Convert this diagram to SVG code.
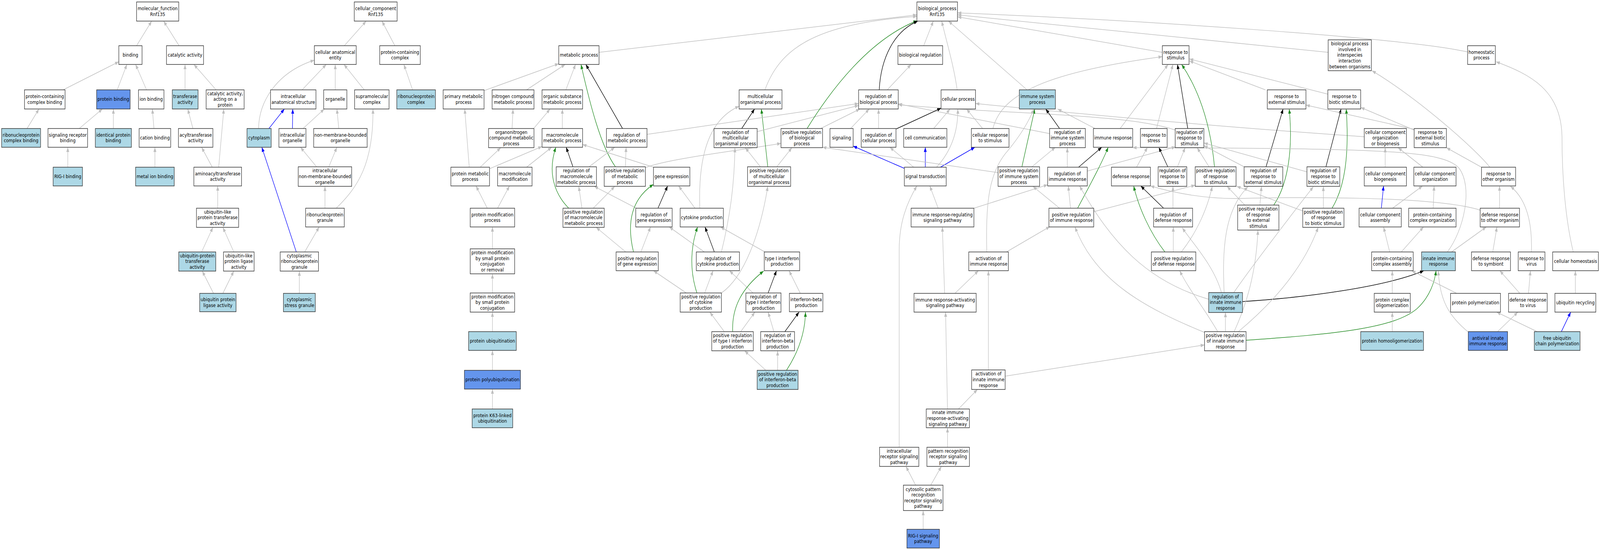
<svg xmlns="http://www.w3.org/2000/svg" width="4968" height="1408" viewBox="0 0 4968 1408">
<style>
.w,.lb,.cb{stroke:#333;stroke-width:1.5}
.w{fill:#fff}.lb{fill:#add8e6}.cb{fill:#6495ed}
text{font-family:"DejaVu Sans",sans-serif;font-size:13px;text-anchor:middle;fill:#000}
#edges path{fill:none;stroke-width:1.5}
.e{stroke:#c0c0c0;marker-end:url(#ag)}
.k{stroke:#000;marker-end:url(#ak)}
.gr{stroke:#228b22;marker-end:url(#agr)}
.b{stroke:#0000ff;marker-end:url(#ab)}
</style>
<defs>
<marker id="ag" viewBox="0 0 12 9" refX="12" refY="4.5" markerWidth="12" markerHeight="9" markerUnits="userSpaceOnUse" orient="auto"><path d="M0,0 L12,4.5 L0,9 z" fill="#c0c0c0"/></marker>
<marker id="ak" viewBox="0 0 12 9" refX="12" refY="4.5" markerWidth="12" markerHeight="9" markerUnits="userSpaceOnUse" orient="auto"><path d="M0,0 L12,4.5 L0,9 z" fill="#000"/></marker>
<marker id="agr" viewBox="0 0 12 9" refX="12" refY="4.5" markerWidth="12" markerHeight="9" markerUnits="userSpaceOnUse" orient="auto"><path d="M0,0 L12,4.5 L0,9 z" fill="#228b22"/></marker>
<marker id="ab" viewBox="0 0 12 9" refX="12" refY="4.5" markerWidth="12" markerHeight="9" markerUnits="userSpaceOnUse" orient="auto"><path d="M0,0 L12,4.5 L0,9 z" fill="#0000ff"/></marker>
</defs>
<g id="diagram" transform="scale(0.824477,1)">
<g id="edges">
<path class="e" d="M424,117 L471,54"/>
<path class="e" d="M556,117 L508,54"/>
<path class="e" d="M196,230 L369,158"/>
<path class="e" d="M364,230 L394,165"/>
<path class="e" d="M455,230 L421,165"/>
<path class="e" d="M574.5,230 L574.5,165"/>
<path class="e" d="M671,230 L602,165"/>
<path class="e" d="M84,329 L121,279"/>
<path class="e" d="M246,329 L318,279"/>
<path class="e" d="M352,329 L352,279"/>
<path class="e" d="M478,329 L473,279"/>
<path class="e" d="M599,329 L583,279"/>
<path class="e" d="M210.5,428 L210.5,377"/>
<path class="e" d="M481,428 L481,377"/>
<path class="e" d="M659,428 L626,377"/>
<path class="e" d="M679,428 L695,279"/>
<path class="e" d="M676,533 L676,476"/>
<path class="e" d="M626,645 L661,582"/>
<path class="e" d="M726,645 L692,582"/>
<path class="e" d="M663,751 L628,694"/>
<path class="e" d="M692,751 L726,694"/>
<path class="e" d="M1069,117 L1137,54"/>
<path class="e" d="M1226,117 L1186,54"/>
<path class="e" d="M938,230 L1013,165"/>
<path class="e" d="M1041,230 L1041,165"/>
<path class="e" d="M1131,230 L1068,165"/>
<path class="e" d="M803,329 C803,260 860,185 976,154"/>
<path class="e" d="M1281,230 L1254,165"/>
<path class="e" d="M941,329 L1007,279"/>
<path class="e" d="M1052,329 L1046,279"/>
<path class="e" d="M983,427 L933,377"/>
<path class="e" d="M1021,427 L1046,377"/>
<path class="e" d="M1009,533 L1009,477"/>
<path class="e" d="M1044,533 C1110,480 1160,420 1158,279"/>
<path class="e" d="M946,645 L991,581"/>
<path class="e" d="M929.5,751 L929.5,694"/>
<path class="b" d="M835,329 L883,279"/>
<path class="b" d="M908,329 L909,279"/>
<path class="b" d="M920,645 L813,377"/>
<path class="e" d="M1860,134 L2847,38"/>
<path class="e" d="M1503,232 L1735,163"/>
<path class="e" d="M1635,230 L1755,165"/>
<path class="e" d="M1757,230 L1787,165"/>
<path class="e" d="M1590,329 L1593,279"/>
<path class="e" d="M1657,329 L1708,279"/>
<path class="e" d="M1746,329 L1746,279"/>
<path class="e" d="M1457,428 L1443,279"/>
<path class="e" d="M1491,428 L1555,378"/>
<path class="e" d="M1520,432 L1683,375"/>
<path class="e" d="M1635,428 L1713,377"/>
<path class="e" d="M1513,533 L1478,476"/>
<path class="e" d="M1545,533 L1582,476"/>
<path class="e" d="M1529,637 L1529,581"/>
<path class="e" d="M1529,750 L1529,701"/>
<path class="e" d="M1529,849 L1529,799"/>
<path class="e" d="M1529,948 L1529,897"/>
<path class="e" d="M1529,1047 L1529,996"/>
<path class="k" d="M1933,329 L1819,165"/>
<path class="gr" d="M1911,427 C1865,375 1830,260 1804,165"/>
<path class="k" d="M1779,427 L1758,377"/>
<path class="e" d="M1829,427 L1909,377"/>
<path class="e" d="M1942,427 L1944,377"/>
<path class="e" d="M2004,429 C2080,405 2300,385 2425,367"/>
<path class="e" d="M2029,428 L1809,370"/>
<path class="gr" d="M1766,533 C1720,495 1700,440 1726,377"/>
<path class="e" d="M1807,533 L1797,477"/>
<path class="e" d="M1842,533 L1909,477"/>
<path class="k" d="M2043,533 L2073,476"/>
<path class="e" d="M1976,533 L1845,477"/>
<path class="e" d="M2158,533 L2107,476"/>
<path class="e" d="M2173,533 C2168,420 2190,310 2295,272"/>
<path class="gr" d="M1967,645 C1945,570 1960,510 2029,472"/>
<path class="e" d="M1990,645 L2020,581"/>
<path class="e" d="M1943,645 L1851,582"/>
<path class="k" d="M2218,645 L2189,581"/>
<path class="e" d="M2187,645 L2078,581"/>
<path class="e" d="M2240,645 C2265,560 2280,480 2282,378"/>
<path class="e" d="M2375,645 L2237,581"/>
<path class="gr" d="M2384,427 L2364,279"/>
<path class="e" d="M2361,427 L2314,378"/>
<path class="e" d="M2412,427 L2459,378"/>
<path class="k" d="M2303,329 L2343,279"/>
<path class="e" d="M2351,337 L2666,270"/>
<path class="e" d="M2009,344 L2666,265"/>
<path class="e" d="M2548,329 L2670,279"/>
<path class="gr" d="M2506,329 C2580,230 2700,100 2848,53"/>
<path class="k" d="M2730,230 C2735,150 2775,80 2850,54"/>
<path class="e" d="M2755,230 L2829,165"/>
<path class="e" d="M2868,117 L2898,54"/>
<path class="e" d="M2972,230 C2962,170 2940,110 2924,54"/>
<path class="e" d="M3189,230 L2945,54"/>
<path class="e" d="M2375,230 C2420,130 2520,60 2847,42"/>
<path class="e" d="M3609,134 L2973,43"/>
<path class="e" d="M4124,134 L2973,38"/>
<path class="e" d="M4557,133 C4350,95 3500,50 2973,33"/>
<path class="e" d="M4236,350 Q3700,320 3029,265"/>
<path class="e" d="M3649,333 C3500,290 3100,292 2789,268"/>
<path class="e" d="M3259,342 L2789,266"/>
<path class="e" d="M2728,329 L2728,279"/>
<path class="k" d="M2783,330 L2922,277"/>
<path class="e" d="M2641,329 L2699,279"/>
<path class="e" d="M2899,329 L2950,279"/>
<path class="e" d="M3051,329 L3001,279"/>
<path class="e" d="M3083,329 C3110,240 3250,185 3609,145"/>
<path class="b" d="M2808,431 L2649,374"/>
<path class="b" d="M2873,428 L2873,377"/>
<path class="b" d="M2920,428 L3027,377"/>
<path class="e" d="M2837,428 L2763,377"/>
<path class="e" d="M2908,428 C2950,390 2975,340 2974,279"/>
<path class="k" d="M3290,329 L3247,279"/>
<path class="gr" d="M3173,427 L3213,279"/>
<path class="e" d="M3204,427 L3277,377"/>
<path class="e" d="M3099,442 L2554,377"/>
<path class="e" d="M3400,329 L3284,279"/>
<path class="e" d="M3064,645 C3060,520 3070,440 3130,385 C3170,345 3195,310 3210,279"/>
<path class="e" d="M3478,329 L3627,165"/>
<path class="e" d="M3314,428 L3314,378"/>
<path class="k" d="M3349,428 L3421,377"/>
<path class="e" d="M3376,438 L3650,376"/>
<path class="e" d="M3324,533 L3317,476"/>
<path class="e" d="M3290,533 L3207,477"/>
<path class="gr" d="M3346,533 C3380,480 3420,420 3441,377"/>
<path class="e" d="M3396,542 L3711,474"/>
<path class="e" d="M2913,533 L2887,476"/>
<path class="e" d="M3024,533 L3253,473"/>
<path class="e" d="M3125,645 L3260,580"/>
<path class="e" d="M2933,751 L2926,581"/>
<path class="e" d="M2965,751 L3038,693"/>
<path class="e" d="M2942,1047 L2936,799"/>
<path class="e" d="M2976,1047 L3035,997"/>
<path class="e" d="M3069,947 L3069,693"/>
<path class="e" d="M3121,963 L3740,883"/>
<path class="e" d="M2942,1145 L2942,1095"/>
<path class="e" d="M2792,1145 L2792,640 C2792,570 2815,520 2847,476"/>
<path class="e" d="M2843,1242 L2813,1194"/>
<path class="e" d="M2890,1242 L2923,1194"/>
<path class="e" d="M2866.5,1355 L2866.5,1307"/>
<path class="e" d="M3591,329 L3642,165"/>
<path class="k" d="M3688,329 L3656,165"/>
<path class="gr" d="M3771,427 C3760,330 3730,240 3669,165"/>
<path class="e" d="M3754,427 L3717,378"/>
<path class="k" d="M3626,427 L3598,377"/>
<path class="e" d="M3656,427 L3680,378"/>
<path class="e" d="M3529,428 L3563,377"/>
<path class="k" d="M3931,427 L3984,279"/>
<path class="gr" d="M3955,525 C4000,470 4015,380 4003,279"/>
<path class="e" d="M3912,525 L3917,477"/>
<path class="e" d="M3865,525 L3810,477"/>
<path class="e" d="M3929,230 L3693,156"/>
<path class="e" d="M4123,241 L3693,151"/>
<path class="k" d="M4117,427 L4164,279"/>
<path class="gr" d="M4136,533 C4175,480 4190,400 4180,279"/>
<path class="e" d="M4109,533 L4109,477"/>
<path class="e" d="M4045,540 L3840,477"/>
<path class="e" d="M4391,333 L4225,275"/>
<path class="e" d="M4391,331 L4055,269"/>
<path class="e" d="M4600,428 L4491,378"/>
<path class="e" d="M4626,428 C4580,380 4400,250 4260,181"/>
<path class="e" d="M4656,533 L4656,476"/>
<path class="e" d="M4596,538 C4450,500 4000,505 3850,508 C3750,510 3650,495 3572,476"/>
<path class="e" d="M4635,645 L4648,581"/>
<path class="e" d="M4719,751 L4657,693"/>
<path class="e" d="M4746,751 L4752,693"/>
<path class="e" d="M4755,645 C4758,570 4740,510 4690,477"/>
<path class="e" d="M4507,645 L4615,581"/>
<path class="e" d="M4494,645 C4545,590 4575,480 4530,430 C4480,385 4300,380 3517,378"/>
<path class="e" d="M4559,850 C4500,810 4470,770 4466,693"/>
<path class="e" d="M4650,849 L4713,799"/>
<path class="k" d="M3858,772 C4050,762 4300,735 4421,693"/>
<path class="gr" d="M3869,871 C4150,855 4330,840 4400,790 C4440,760 4455,720 4459,693"/>
<path class="e" d="M3753,766 C3560,720 3450,620 3352,476"/>
<path class="e" d="M3740,851 C3560,790 3400,720 3338,581"/>
<path class="e" d="M3793,750 C3770,680 3700,620 3671,583"/>
<path class="e" d="M3801,750 C3795,640 3800,540 3875,478"/>
<path class="e" d="M3830,750 C3880,690 4000,560 4078,478"/>
<path class="e" d="M3781,849 C3740,790 3690,740 3663,693"/>
<path class="e" d="M3805,849 L3805,800"/>
<path class="e" d="M3832,849 C3870,780 3900,700 3906,589"/>
<path class="e" d="M3845,849 C3960,770 4050,680 4093,582"/>
<path class="e" d="M3643,645 L3643,581"/>
<path class="gr" d="M3617,645 C3570,595 3535,530 3520,476"/>
<path class="e" d="M3668,645 C3720,590 3750,530 3764,477"/>
<path class="k" d="M3613,533 L3542,476"/>
<path class="e" d="M3642,533 L3642,477"/>
<path class="e" d="M3863,427 L3738,373"/>
<path class="e" d="M4058,440 L3738,366"/>
<path class="e" d="M4301,428 L4301,378"/>
<path class="e" d="M4418,428 L4341,378"/>
<path class="b" d="M4289,533 L4296,476"/>
<path class="e" d="M4324,533 L4417,476"/>
<path class="e" d="M4450,533 L4453,476"/>
<path class="e" d="M4315,645 L4296,581"/>
<path class="e" d="M4351,645 L4420,581"/>
<path class="e" d="M4323,751 L4323,693"/>
<path class="e" d="M4323,849 L4323,799"/>
<path class="e" d="M4523,751 L4383,693"/>
<path class="e" d="M4773,849 L4647,799"/>
<path class="b" d="M4848,849 L4877,799"/>
<path class="e" d="M4891.5,751 L4891.5,693"/>
<path class="e" d="M4885,645 C4860,560 4850,450 4850,350 C4848,230 4750,190 4645,158"/>
<path class="gr" d="M2164,750 C2140,690 2145,630 2166,581"/>
<path class="e" d="M2188,750 L2214,693"/>
<path class="e" d="M2240,750 C2310,710 2360,600 2384,477"/>
<path class="e" d="M2131,750 L2029,693"/>
<path class="k" d="M2385,750 L2411,693"/>
<path class="e" d="M2338,750 L2265,693"/>
<path class="e" d="M2485,751 L2450,693"/>
<path class="gr" d="M2275,849 C2272,790 2300,740 2371,694"/>
<path class="e" d="M2249,849 L2204,799"/>
<path class="e" d="M2300,849 L2344,799"/>
<path class="e" d="M2403,849 L2385,799"/>
<path class="k" d="M2437,849 L2481,799"/>
<path class="e" d="M2378,948 L2312,898"/>
<path class="e" d="M2414.5,948 L2414.5,898"/>
<path class="gr" d="M2442,948 C2480,900 2500,850 2501,799"/>
</g>
<g id="nodes">
<g id="n1"><rect class="w" x="424" y="5" width="131" height="49"/><text x="489.5" y="26.2">molecular_function<tspan x="489.5" dy="14.6">Rnf135</tspan></text></g>
<g id="n2"><rect class="w" x="369" y="117" width="72" height="48"/><text x="405" y="145">binding</text></g>
<g id="n3"><rect class="w" x="517" y="117" width="115" height="48"/><text x="574.5" y="145">catalytic activity</text></g>
<g id="n4"><rect class="w" x="76" y="230" width="126" height="49"/><text x="139" y="251.2">protein-containing<tspan x="139" dy="14.6">complex binding</tspan></text></g>
<g id="n5"><rect class="cb" x="300" y="230" width="104" height="49"/><text x="352" y="258.5">protein binding</text></g>
<g id="n6"><rect class="w" x="430" y="230" width="79" height="49"/><text x="469.5" y="258.5">ion binding</text></g>
<g id="n7"><rect class="lb" x="535" y="230" width="80" height="49"/><text x="575" y="251.2">transferase<tspan x="575" dy="14.6">activity</tspan></text></g>
<g id="n8"><rect class="w" x="640" y="230" width="118" height="49"/><text x="699" y="243.9">catalytic activity,<tspan x="699" dy="14.6">acting on a</tspan><tspan x="699" dy="14.6">protein</tspan></text></g>
<g id="n9"><rect class="lb" x="5" y="329" width="121" height="48"/><text x="65.5" y="349.7">ribonucleoprotein<tspan x="65.5" dy="14.6">complex binding</tspan></text></g>
<g id="n10"><rect class="w" x="149" y="329" width="123" height="48"/><text x="210.5" y="349.7">signaling receptor<tspan x="210.5" dy="14.6">binding</tspan></text></g>
<g id="n11"><rect class="lb" x="296" y="329" width="112" height="48"/><text x="352" y="349.7">identical protein<tspan x="352" dy="14.6">binding</tspan></text></g>
<g id="n12"><rect class="w" x="432" y="329" width="98" height="48"/><text x="481" y="357">cation binding</text></g>
<g id="n13"><rect class="w" x="554" y="329" width="107" height="48"/><text x="607.5" y="349.7">acyltransferase<tspan x="607.5" dy="14.6">activity</tspan></text></g>
<g id="n14"><rect class="lb" x="767" y="329" width="75" height="48"/><text x="804.5" y="357">cytoplasm</text></g>
<g id="n15"><rect class="lb" x="165" y="428" width="91" height="48"/><text x="210.5" y="456">RIG-I binding</text></g>
<g id="n16"><rect class="lb" x="421" y="428" width="120" height="48"/><text x="481" y="456">metal ion binding</text></g>
<g id="n17"><rect class="w" x="602" y="428" width="148" height="48"/><text x="676" y="448.7">aminoacyltransferase<tspan x="676" dy="14.6">activity</tspan></text></g>
<g id="n18"><rect class="w" x="610" y="533" width="131" height="49"/><text x="675.5" y="546.9">ubiquitin-like<tspan x="675.5" dy="14.6">protein transferase</tspan><tspan x="675.5" dy="14.6">activity</tspan></text></g>
<g id="n19"><rect class="lb" x="555" y="645" width="115" height="49"/><text x="612.5" y="658.9">ubiquitin-protein<tspan x="612.5" dy="14.6">transferase</tspan><tspan x="612.5" dy="14.6">activity</tspan></text></g>
<g id="n20"><rect class="w" x="694" y="645" width="95" height="49"/><text x="741.5" y="658.9">ubiquitin-like<tspan x="741.5" dy="14.6">protein ligase</tspan><tspan x="741.5" dy="14.6">activity</tspan></text></g>
<g id="n21"><rect class="lb" x="620" y="751" width="113" height="47"/><text x="676.5" y="771.2">ubiquitin protein<tspan x="676.5" dy="14.6">ligase activity</tspan></text></g>
<g id="n22"><rect class="lb" x="880" y="751" width="99" height="47"/><text x="929.5" y="771.2">cytoplasmic<tspan x="929.5" dy="14.6">stress granule</tspan></text></g>
<g id="n23"><rect class="w" x="1100" y="5" width="133" height="49"/><text x="1166.5" y="26.2">cellular_component<tspan x="1166.5" dy="14.6">Rnf135</tspan></text></g>
<g id="n24"><rect class="w" x="976" y="117" width="130" height="48"/><text x="1041" y="137.7">cellular anatomical<tspan x="1041" dy="14.6">entity</tspan></text></g>
<g id="n25"><rect class="w" x="1179" y="117" width="126" height="48"/><text x="1242" y="137.7">protein-containing<tspan x="1242" dy="14.6">complex</tspan></text></g>
<g id="n26"><rect class="w" x="840" y="230" width="141" height="49"/><text x="910.5" y="251.2">intracellular<tspan x="910.5" dy="14.6">anatomical structure</tspan></text></g>
<g id="n27"><rect class="w" x="1005" y="230" width="72" height="49"/><text x="1041" y="258.5">organelle</text></g>
<g id="n28"><rect class="w" x="1101" y="230" width="107" height="49"/><text x="1154.5" y="251.2">supramolecular<tspan x="1154.5" dy="14.6">complex</tspan></text></g>
<g id="n29"><rect class="lb" x="1232" y="230" width="120" height="49"/><text x="1292" y="251.2">ribonucleoprotein<tspan x="1292" dy="14.6">complex</tspan></text></g>
<g id="n32"><rect class="w" x="866" y="329" width="84" height="48"/><text x="908" y="349.7">intracellular<tspan x="908" dy="14.6">organelle</tspan></text></g>
<g id="n33"><rect class="w" x="974" y="329" width="166" height="48"/><text x="1057" y="349.7">non-membrane-bounded<tspan x="1057" dy="14.6">organelle</tspan></text></g>
<g id="n35"><rect class="w" x="926" y="427" width="166" height="50"/><text x="1009" y="441.4">intracellular<tspan x="1009" dy="14.6">non-membrane-bounded</tspan><tspan x="1009" dy="14.6">organelle</tspan></text></g>
<g id="n38"><rect class="w" x="949" y="533" width="120" height="48"/><text x="1009" y="553.7">ribonucleoprotein<tspan x="1009" dy="14.6">granule</tspan></text></g>
<g id="n40"><rect class="w" x="870" y="645" width="119" height="49"/><text x="929.5" y="658.9">cytoplasmic<tspan x="929.5" dy="14.6">ribonucleoprotein</tspan><tspan x="929.5" dy="14.6">granule</tspan></text></g>
<g id="n30"><rect class="w" x="1376" y="230" width="127" height="49"/><text x="1439.5" y="251.2">primary metabolic<tspan x="1439.5" dy="14.6">process</tspan></text></g>
<g id="n31"><rect class="w" x="1528" y="230" width="130" height="49"/><text x="1593" y="251.2">nitrogen compound<tspan x="1593" dy="14.6">metabolic process</tspan></text></g>
<g id="n34"><rect class="w" x="1517" y="329" width="141" height="49"/><text x="1587.5" y="342.9">organonitrogen<tspan x="1587.5" dy="14.6">compound metabolic</tspan><tspan x="1587.5" dy="14.6">process</tspan></text></g>
<g id="n36"><rect class="w" x="1400" y="428" width="120" height="48"/><text x="1460" y="448.7">protein metabolic<tspan x="1460" dy="14.6">process</tspan></text></g>
<g id="n37"><rect class="w" x="1545" y="428" width="107" height="48"/><text x="1598.5" y="448.7">macromolecule<tspan x="1598.5" dy="14.6">modification</tspan></text></g>
<g id="n39"><rect class="w" x="1460" y="533" width="138" height="48"/><text x="1529" y="553.7">protein modification<tspan x="1529" dy="14.6">process</tspan></text></g>
<g id="n41"><rect class="w" x="1460" y="637" width="138" height="64"/><text x="1529" y="651.1">protein modification<tspan x="1529" dy="14.6">by small protein</tspan><tspan x="1529" dy="14.6">conjugation</tspan><tspan x="1529" dy="14.6">or removal</tspan></text></g>
<g id="n42"><rect class="w" x="1460" y="750" width="138" height="49"/><text x="1529" y="763.9">protein modification<tspan x="1529" dy="14.6">by small protein</tspan><tspan x="1529" dy="14.6">conjugation</tspan></text></g>
<g id="n43"><rect class="lb" x="1455" y="849" width="148" height="48"/><text x="1529" y="877">protein ubiquitination</text></g>
<g id="n44"><rect class="cb" x="1442" y="948" width="174" height="48"/><text x="1529" y="976">protein polyubiquitination</text></g>
<g id="n45"><rect class="lb" x="1466" y="1047" width="126" height="48"/><text x="1529" y="1067.7">protein K63-linked<tspan x="1529" dy="14.6">ubiquitination</tspan></text></g>
<g id="n46"><rect class="w" x="1735" y="117" width="125" height="48"/><text x="1797.5" y="145">metabolic process</text></g>
<g id="n47"><rect class="w" x="1683" y="230" width="126" height="49"/><text x="1746" y="251.2">organic substance<tspan x="1746" dy="14.6">metabolic process</tspan></text></g>
<g id="n48"><rect class="w" x="2295" y="230" width="133" height="49"/><text x="2361.5" y="251.2">multicellular<tspan x="2361.5" dy="14.6">organismal process</tspan></text></g>
<g id="n49"><rect class="w" x="1683" y="329" width="126" height="48"/><text x="1746" y="349.7">macromolecule<tspan x="1746" dy="14.6">metabolic process</tspan></text></g>
<g id="n50"><rect class="w" x="1883" y="329" width="126" height="48"/><text x="1946" y="349.7">regulation of<tspan x="1946" dy="14.6">metabolic process</tspan></text></g>
<g id="n51"><rect class="w" x="2217" y="329" width="134" height="49"/><text x="2284" y="342.9">regulation of<tspan x="2284" dy="14.6">multicellular</tspan><tspan x="2284" dy="14.6">organismal process</tspan></text></g>
<g id="n52"><rect class="w" x="2425" y="329" width="129" height="49"/><text x="2489.5" y="342.9">positive regulation<tspan x="2489.5" dy="14.6">of biological</tspan><tspan x="2489.5" dy="14.6">process</tspan></text></g>
<g id="n53"><rect class="w" x="1727" y="427" width="125" height="50"/><text x="1789.5" y="441.4">regulation of<tspan x="1789.5" dy="14.6">macromolecule</tspan><tspan x="1789.5" dy="14.6">metabolic process</tspan></text></g>
<g id="n54"><rect class="w" x="1876" y="427" width="128" height="50"/><text x="1940" y="441.4">positive regulation<tspan x="1940" dy="14.6">of metabolic</tspan><tspan x="1940" dy="14.6">process</tspan></text></g>
<g id="n55"><rect class="w" x="2029" y="428" width="113" height="48"/><text x="2085.5" y="456">gene expression</text></g>
<g id="n56"><rect class="w" x="2321" y="427" width="134" height="50"/><text x="2388" y="441.4">positive regulation<tspan x="2388" dy="14.6">of multicellular</tspan><tspan x="2388" dy="14.6">organismal process</tspan></text></g>
<g id="n57"><rect class="w" x="1748" y="533" width="128" height="49"/><text x="1812" y="546.9">positive regulation<tspan x="1812" dy="14.6">of macromolecule</tspan><tspan x="1812" dy="14.6">metabolic process</tspan></text></g>
<g id="n58"><rect class="w" x="1974" y="533" width="113" height="48"/><text x="2030.5" y="553.7">regulation of<tspan x="2030.5" dy="14.6">gene expression</tspan></text></g>
<g id="n59"><rect class="w" x="2112" y="533" width="134" height="48"/><text x="2179" y="561">cytokine production</text></g>
<g id="n60"><rect class="w" x="1913" y="645" width="131" height="48"/><text x="1978.5" y="665.7">positive regulation<tspan x="1978.5" dy="14.6">of gene expression</tspan></text></g>
<g id="n61"><rect class="w" x="2162" y="645" width="134" height="48"/><text x="2229" y="665.7">regulation of<tspan x="2229" dy="14.6">cytokine production</tspan></text></g>
<g id="n62"><rect class="w" x="2373" y="645" width="110" height="48"/><text x="2428" y="665.7">type I interferon<tspan x="2428" dy="14.6">production</tspan></text></g>
<g id="n63"><rect class="w" x="2112" y="750" width="128" height="49"/><text x="2176" y="763.9">positive regulation<tspan x="2176" dy="14.6">of cytokine</tspan><tspan x="2176" dy="14.6">production</tspan></text></g>
<g id="n64"><rect class="w" x="2316" y="750" width="109" height="49"/><text x="2370.5" y="763.9">regulation of<tspan x="2370.5" dy="14.6">type I interferon</tspan><tspan x="2370.5" dy="14.6">production</tspan></text></g>
<g id="n65"><rect class="w" x="2451" y="751" width="104" height="47"/><text x="2503" y="771.2">interferon-beta<tspan x="2503" dy="14.6">production</tspan></text></g>
<g id="n66"><rect class="w" x="2210" y="849" width="129" height="49"/><text x="2274.5" y="862.9">positive regulation<tspan x="2274.5" dy="14.6">of type I interferon</tspan><tspan x="2274.5" dy="14.6">production</tspan></text></g>
<g id="n67"><rect class="w" x="2362" y="849" width="105" height="49"/><text x="2414.5" y="862.9">regulation of<tspan x="2414.5" dy="14.6">interferon-beta</tspan><tspan x="2414.5" dy="14.6">production</tspan></text></g>
<g id="n68"><rect class="lb" x="2351" y="948" width="127" height="49"/><text x="2414.5" y="961.9">positive regulation<tspan x="2414.5" dy="14.6">of interferon-beta</tspan><tspan x="2414.5" dy="14.6">production</tspan></text></g>
<g id="n69"><rect class="w" x="2731" y="1145" width="122" height="49"/><text x="2792" y="1158.9">intracellular<tspan x="2792" dy="14.6">receptor signaling</tspan><tspan x="2792" dy="14.6">pathway</tspan></text></g>
<g id="n70"><rect class="w" x="2878" y="1145" width="132" height="49"/><text x="2944" y="1158.9">pattern recognition<tspan x="2944" dy="14.6">receptor signaling</tspan><tspan x="2944" dy="14.6">pathway</tspan></text></g>
<g id="n71"><rect class="w" x="2805" y="1242" width="123" height="65"/><text x="2866.5" y="1256.6">cytosolic pattern<tspan x="2866.5" dy="14.6">recognition</tspan><tspan x="2866.5" dy="14.6">receptor signaling</tspan><tspan x="2866.5" dy="14.6">pathway</tspan></text></g>
<g id="n72"><rect class="cb" x="2816" y="1355" width="101" height="48"/><text x="2866.5" y="1375.7">RIG-I signaling<tspan x="2866.5" dy="14.6">pathway</tspan></text></g>
<g id="n73"><rect class="w" x="2838" y="751" width="193" height="48"/><text x="2934.5" y="771.7">immune response-activating<tspan x="2934.5" dy="14.6">signaling pathway</tspan></text></g>
<g id="n74"><rect class="w" x="2876" y="1047" width="134" height="48"/><text x="2943" y="1060.4">innate immune<tspan x="2943" dy="14.6">response-activating</tspan><tspan x="2943" dy="14.6">signaling pathway</tspan></text></g>
<g id="n75"><rect class="w" x="2847" y="5" width="126" height="49"/><text x="2910" y="26.2">biological_process<tspan x="2910" dy="14.6">Rnf135</tspan></text></g>
<g id="n76"><rect class="w" x="2788" y="117" width="139" height="48"/><text x="2857.5" y="145">biological regulation</text></g>
<g id="n77"><rect class="w" x="2666" y="230" width="123" height="49"/><text x="2727.5" y="251.2">regulation of<tspan x="2727.5" dy="14.6">biological process</tspan></text></g>
<g id="n78"><rect class="w" x="2922" y="230" width="107" height="49"/><text x="2975.5" y="258.5">cellular process</text></g>
<g id="n79"><rect class="lb" x="3165" y="230" width="112" height="49"/><text x="3221" y="251.2">immune system<tspan x="3221" dy="14.6">process</tspan></text></g>
<g id="n80"><rect class="w" x="2577" y="329" width="72" height="48"/><text x="2613" y="357">signaling</text></g>
<g id="n81"><rect class="w" x="2674" y="329" width="108" height="48"/><text x="2728" y="349.7">regulation of<tspan x="2728" dy="14.6">cellular process</tspan></text></g>
<g id="n82"><rect class="w" x="2806" y="329" width="134" height="48"/><text x="2873" y="357">cell communication</text></g>
<g id="n83"><rect class="w" x="3016" y="329" width="117" height="48"/><text x="3074.5" y="349.7">cellular response<tspan x="3074.5" dy="14.6">to stimulus</tspan></text></g>
<g id="n84"><rect class="w" x="3259" y="329" width="111" height="49"/><text x="3314.5" y="342.9">regulation of<tspan x="3314.5" dy="14.6">immune system</tspan><tspan x="3314.5" dy="14.6">process</tspan></text></g>
<g id="n85"><rect class="w" x="2808" y="428" width="130" height="48"/><text x="2873" y="456">signal transduction</text></g>
<g id="n86"><rect class="w" x="3099" y="427" width="129" height="50"/><text x="3163.5" y="441.4">positive regulation<tspan x="3163.5" dy="14.6">of immune system</tspan><tspan x="3163.5" dy="14.6">process</tspan></text></g>
<g id="n87"><rect class="w" x="3253" y="428" width="123" height="48"/><text x="3314.5" y="448.7">regulation of<tspan x="3314.5" dy="14.6">immune response</tspan></text></g>
<g id="n88"><rect class="w" x="2829" y="533" width="195" height="48"/><text x="2926.5" y="553.7">immune response-regulating<tspan x="2926.5" dy="14.6">signaling pathway</tspan></text></g>
<g id="n89"><rect class="w" x="3257" y="533" width="139" height="48"/><text x="3326.5" y="553.7">positive regulation<tspan x="3326.5" dy="14.6">of immune response</tspan></text></g>
<g id="n90"><rect class="w" x="3008" y="645" width="123" height="48"/><text x="3069.5" y="665.7">activation of<tspan x="3069.5" dy="14.6">immune response</tspan></text></g>
<g id="n91"><rect class="w" x="3609" y="117" width="83" height="48"/><text x="3650.5" y="137.7">response to<tspan x="3650.5" dy="14.6">stimulus</tspan></text></g>
<g id="n92"><rect class="w" x="4124" y="102" width="134" height="79"/><text x="4191" y="116.3">biological process<tspan x="4191" dy="14.6">involved in</tspan><tspan x="4191" dy="14.6">interspecies</tspan><tspan x="4191" dy="14.6">interaction</tspan><tspan x="4191" dy="14.6">between organisms</tspan></text></g>
<g id="n93"><rect class="w" x="3935" y="230" width="120" height="49"/><text x="3995" y="251.2">response to<tspan x="3995" dy="14.6">external stimulus</tspan></text></g>
<g id="n94"><rect class="w" x="4123" y="230" width="102" height="49"/><text x="4174" y="251.2">response to<tspan x="4174" dy="14.6">biotic stimulus</tspan></text></g>
<g id="n95"><rect class="w" x="3395" y="329" width="122" height="48"/><text x="3456" y="357">immune response</text></g>
<g id="n96"><rect class="w" x="3541" y="329" width="83" height="48"/><text x="3582.5" y="349.7">response to<tspan x="3582.5" dy="14.6">stress</tspan></text></g>
<g id="n97"><rect class="w" x="3649" y="329" width="89" height="49"/><text x="3693.5" y="342.9">regulation of<tspan x="3693.5" dy="14.6">response to</tspan><tspan x="3693.5" dy="14.6">stimulus</tspan></text></g>
<g id="n98"><rect class="w" x="3451" y="428" width="121" height="48"/><text x="3511.5" y="456">defense response</text></g>
<g id="n99"><rect class="w" x="3596" y="427" width="89" height="50"/><text x="3640.5" y="441.4">regulation of<tspan x="3640.5" dy="14.6">response to</tspan><tspan x="3640.5" dy="14.6">stress</tspan></text></g>
<g id="n100"><rect class="w" x="3711" y="427" width="127" height="50"/><text x="3774.5" y="441.4">positive regulation<tspan x="3774.5" dy="14.6">of response</tspan><tspan x="3774.5" dy="14.6">to stimulus</tspan></text></g>
<g id="n101"><rect class="w" x="3863" y="427" width="120" height="50"/><text x="3923" y="441.4">regulation of<tspan x="3923" dy="14.6">response to</tspan><tspan x="3923" dy="14.6">external stimulus</tspan></text></g>
<g id="n102"><rect class="w" x="4058" y="427" width="102" height="50"/><text x="4109" y="441.4">regulation of<tspan x="4109" dy="14.6">response to</tspan><tspan x="4109" dy="14.6">biotic stimulus</tspan></text></g>
<g id="n103"><rect class="w" x="3582" y="533" width="121" height="48"/><text x="3642.5" y="553.7">regulation of<tspan x="3642.5" dy="14.6">defense response</tspan></text></g>
<g id="n104"><rect class="w" x="3843" y="525" width="128" height="64"/><text x="3907" y="539.1">positive regulation<tspan x="3907" dy="14.6">of response</tspan><tspan x="3907" dy="14.6">to external</tspan><tspan x="3907" dy="14.6">stimulus</tspan></text></g>
<g id="n105"><rect class="w" x="4045" y="533" width="128" height="49"/><text x="4109" y="546.9">positive regulation<tspan x="4109" dy="14.6">of response</tspan><tspan x="4109" dy="14.6">to biotic stimulus</tspan></text></g>
<g id="n106"><rect class="w" x="3575" y="645" width="138" height="48"/><text x="3644" y="665.7">positive regulation<tspan x="3644" dy="14.6">of defense response</tspan></text></g>
<g id="n107"><rect class="w" x="4557" y="117" width="86" height="48"/><text x="4600" y="137.7">homeostatic<tspan x="4600" dy="14.6">process</tspan></text></g>
<g id="n108"><rect class="w" x="4236" y="329" width="131" height="49"/><text x="4301.5" y="342.9">cellular component<tspan x="4301.5" dy="14.6">organization</tspan><tspan x="4301.5" dy="14.6">or biogenesis</tspan></text></g>
<g id="n109"><rect class="w" x="4391" y="329" width="100" height="49"/><text x="4441" y="342.9">response to<tspan x="4441" dy="14.6">external biotic</tspan><tspan x="4441" dy="14.6">stimulus</tspan></text></g>
<g id="n110"><rect class="w" x="4236" y="428" width="131" height="48"/><text x="4301.5" y="448.7">cellular component<tspan x="4301.5" dy="14.6">biogenesis</tspan></text></g>
<g id="n111"><rect class="w" x="4390" y="428" width="131" height="48"/><text x="4455.5" y="448.7">cellular component<tspan x="4455.5" dy="14.6">organization</tspan></text></g>
<g id="n112"><rect class="w" x="4600" y="428" width="106" height="48"/><text x="4653" y="448.7">response to<tspan x="4653" dy="14.6">other organism</tspan></text></g>
<g id="n113"><rect class="w" x="4220" y="533" width="131" height="48"/><text x="4285.5" y="553.7">cellular component<tspan x="4285.5" dy="14.6">assembly</tspan></text></g>
<g id="n114"><rect class="w" x="4374" y="533" width="147" height="48"/><text x="4447.5" y="553.7">protein-containing<tspan x="4447.5" dy="14.6">complex organization</tspan></text></g>
<g id="n115"><rect class="w" x="4596" y="533" width="122" height="48"/><text x="4657" y="553.7">defense response<tspan x="4657" dy="14.6">to other organism</tspan></text></g>
<g id="n116"><rect class="w" x="4259" y="645" width="129" height="48"/><text x="4323.5" y="665.7">protein-containing<tspan x="4323.5" dy="14.6">complex assembly</tspan></text></g>
<g id="n117"><rect class="lb" x="4414" y="645" width="105" height="48"/><text x="4466.5" y="665.7">innate immune<tspan x="4466.5" dy="14.6">response</tspan></text></g>
<g id="n118"><rect class="w" x="4569" y="645" width="121" height="48"/><text x="4629.5" y="665.7">defense response<tspan x="4629.5" dy="14.6">to symbiont</tspan></text></g>
<g id="n119"><rect class="w" x="4714" y="645" width="83" height="48"/><text x="4755.5" y="665.7">response to<tspan x="4755.5" dy="14.6">virus</tspan></text></g>
<g id="n120"><rect class="w" x="4821" y="645" width="142" height="48"/><text x="4892" y="673">cellular homeostasis</text></g>
<g id="n121"><rect class="w" x="4267" y="751" width="112" height="48"/><text x="4323" y="771.7">protein complex<tspan x="4323" dy="14.6">oligomerization</tspan></text></g>
<g id="n122"><rect class="w" x="4504" y="751" width="155" height="48"/><text x="4581.5" y="779">protein polymerization</text></g>
<g id="n123"><rect class="w" x="4684" y="751" width="120" height="48"/><text x="4744" y="771.7">defense response<tspan x="4744" dy="14.6">to virus</tspan></text></g>
<g id="n124"><rect class="w" x="4828" y="751" width="127" height="48"/><text x="4891.5" y="779">ubiquitin recycling</text></g>
<g id="n125"><rect class="lb" x="4225" y="849" width="195" height="48"/><text x="4322.5" y="877">protein homooligomerization</text></g>
<g id="n126"><rect class="cb" x="4559" y="849" width="122" height="48"/><text x="4620" y="869.7">antiviral innate<tspan x="4620" dy="14.6">immune response</tspan></text></g>
<g id="n127"><rect class="lb" x="4764" y="849" width="142" height="48"/><text x="4835" y="869.7">free ubiquitin<tspan x="4835" dy="14.6">chain polymerization</tspan></text></g>
<g id="n128"><rect class="lb" x="3753" y="749" width="105" height="51"/><text x="3805.5" y="763.9">regulation of<tspan x="3805.5" dy="14.6">innate immune</tspan><tspan x="3805.5" dy="14.6">response</tspan></text></g>
<g id="n129"><rect class="w" x="3740" y="849" width="129" height="49"/><text x="3804.5" y="862.9">positive regulation<tspan x="3804.5" dy="14.6">of innate immune</tspan><tspan x="3804.5" dy="14.6">response</tspan></text></g>
<g id="n130"><rect class="w" x="3017" y="947" width="104" height="50"/><text x="3069" y="961.4">activation of<tspan x="3069" dy="14.6">innate immune</tspan><tspan x="3069" dy="14.6">response</tspan></text></g>
</g>
</g>
</svg>
